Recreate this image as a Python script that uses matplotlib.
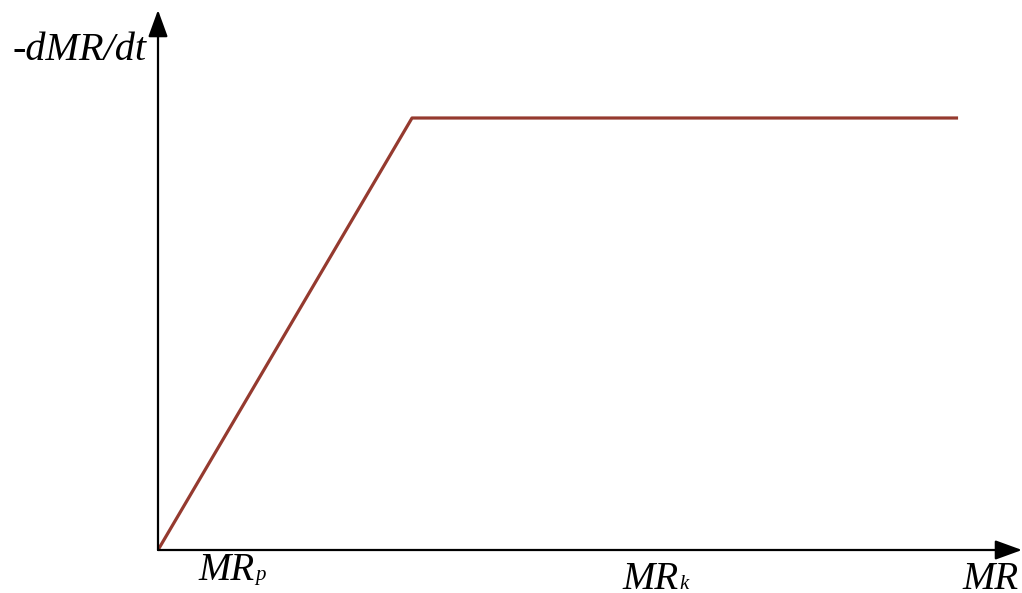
import matplotlib
matplotlib.use("Agg")
import matplotlib.pyplot as plt

# Curva de secado: velocidad -dMR/dt frente a MR
mr = [0.0, 2.94, 9.26]
rate = [0.0, 8.0, 8.0]

plt.rcParams['font.family'] = ['Liberation Serif', 'DejaVu Serif']

W, H = 1022, 593
fig = plt.figure(figsize=(W / 100, H / 100), dpi=100)

# ejes con origen en (158, 550) px
x0, y0 = 158, 550
ax = fig.add_axes([x0 / W, (H - y0) / H, (W - x0) / W, (y0 - 10) / H])
ax.set_xlim(0, 10)
ax.set_ylim(0, 10)
ax.axis('off')

ax.plot(mr, rate, color='#953a2f', lw=2.3, solid_capstyle='butt', zorder=3)

# flechas de los ejes
arrow = dict(arrowstyle='-|>,head_length=1.65,head_width=0.6', color='black',
             lw=1.6, mutation_scale=10, shrinkA=0, shrinkB=0)
ax.annotate('', xy=(0, 1), xytext=(0, 0), xycoords='axes fraction', arrowprops=arrow)
ax.annotate('', xy=(1, 0), xytext=(0, 0), xycoords='axes fraction', arrowprops=arrow)

def px(x, y):
    return x / W, 1 - y / H

fs = 28
fs_sub = 15
rend = fig.canvas.get_renderer()

def label(x, y, main, sub=None, ha='left', size=fs):
    t = fig.text(*px(x, y), main, fontsize=size, style='italic', ha=ha, va='baseline')
    if sub:
        bb = t.get_window_extent(rend)
        fig.text(*px(bb.x1 + 1, y), sub, fontsize=fs_sub, style='italic',
                 ha='left', va='baseline')

label(146, 60, '-dMR/dt', ha='right', size=29)
label(198, 580, 'MR', 'p')
label(622, 589, 'MR', 'k')
label(1019, 589, 'MR', ha='right')

fig.savefig('out.png', dpi=100)
